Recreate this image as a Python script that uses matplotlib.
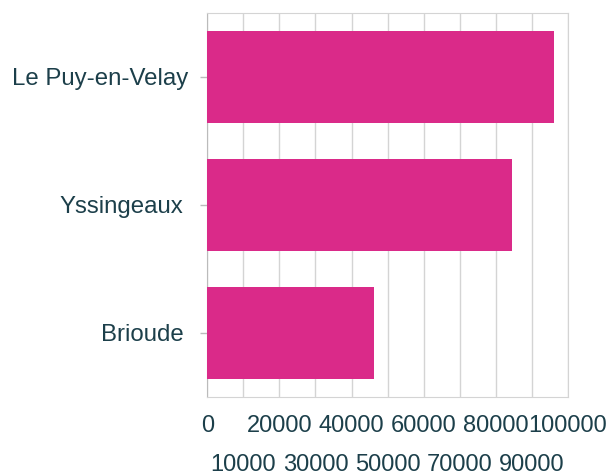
import matplotlib.pyplot as plt
import matplotlib.transforms as mtransforms
import numpy as np

plt.rcParams['font.family'] = ['Liberation Sans', 'DejaVu Sans']

# data, top to bottom as in the picture
cities = ['Le Puy-en-Velay', 'Yssingeaux', 'Brioude']
population = [96200, 84400, 46100]

even_ticks = [0, 20000, 40000, 60000, 80000, 100000]
odd_ticks = [10000, 30000, 50000, 70000, 90000]

text_color = '#1c3f4a'
grid_color = '#d4d4d4'
bar_color = '#da2a89'

fig = plt.figure(figsize=(6.08, 4.76), dpi=100)
ax = fig.add_axes([0.341, 0.167, 0.593, 0.806])

index = np.arange(len(cities))
ax.barh(index, population, height=0.72, color=bar_color, zorder=3)
ax.set_ylim(len(cities) - 0.5, -0.5)
ax.set_xlim(0, 100000)

ax.set_yticks(index)
ax.set_yticklabels(cities)
ax.tick_params(axis='y', length=5, width=1, color='#bbbbbb', pad=8.5,
               labelsize=17.3, labelcolor=text_color)
# the shorter labels sit a little further from the axis in the original
shift = mtransforms.ScaledTranslation(-0.05, 0, fig.dpi_scale_trans)
for lbl in ax.get_yticklabels()[1:]:
    lbl.set_transform(lbl.get_transform() + shift)

# staggered x labels: even on first row, odd on second row
ax.set_xticks(even_ticks)
ax.set_xticklabels([str(v) for v in even_ticks])
ax.set_xticks(odd_ticks, minor=True)
ax.set_xticklabels([str(v) for v in odd_ticks], minor=True)
ax.tick_params(axis='x', which='major', length=0, pad=13.5,
               labelsize=17, labelcolor=text_color)
ax.tick_params(axis='x', which='minor', length=0, pad=41.5,
               labelsize=17, labelcolor=text_color)

ax.grid(axis='x', which='both', color=grid_color, linewidth=1, zorder=0)
for side in ['top', 'right', 'bottom']:
    ax.spines[side].set_color(grid_color)
ax.spines['left'].set_color('#bbbbbb')
ax.set_axisbelow(True)

plt.savefig('out.png')
plt.close()
